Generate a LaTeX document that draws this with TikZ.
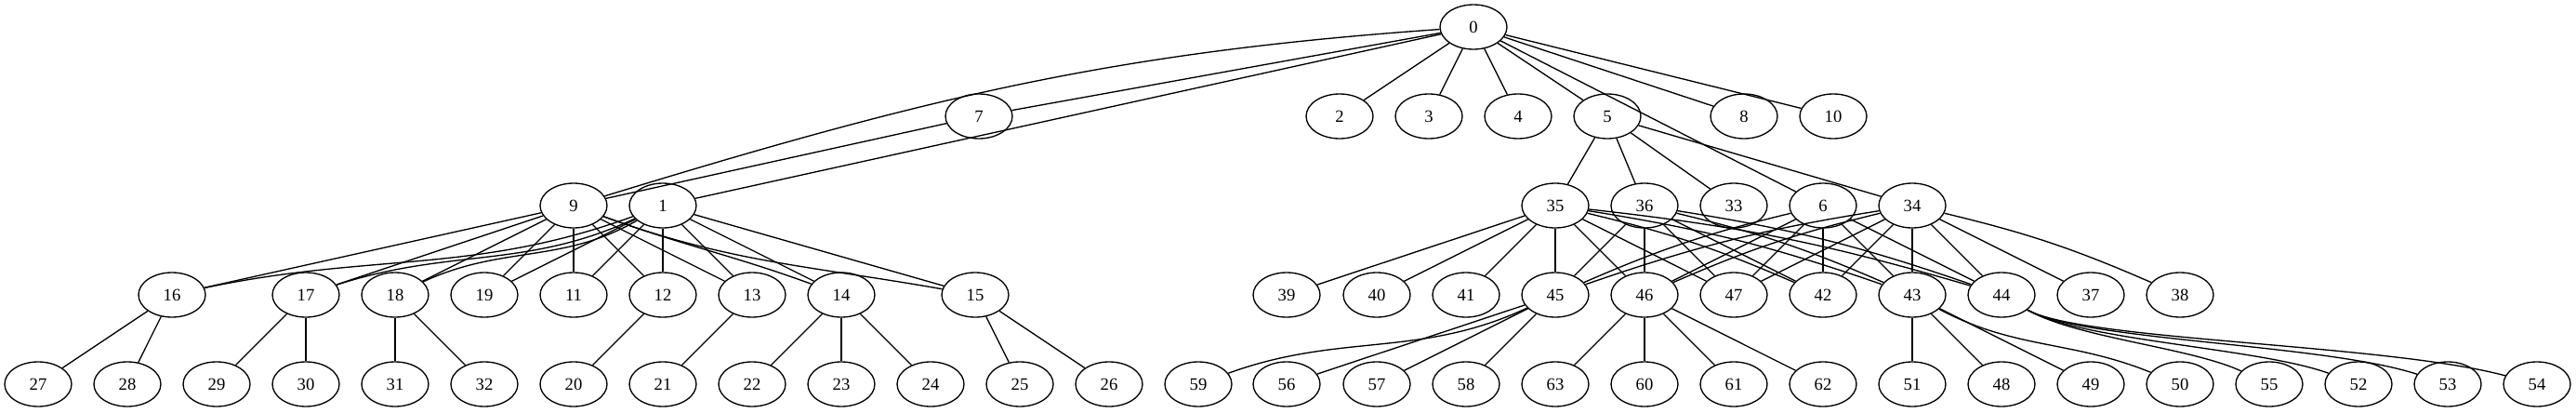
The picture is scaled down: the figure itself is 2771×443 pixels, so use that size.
\documentclass[tikz,border=0pt]{standalone}
\usepackage{fontspec}
\setmainfont{Liberation Serif}
\usepackage{tikz}
\usetikzlibrary{shapes.geometric}

\begin{document}
\begin{tikzpicture}[x=0.75pt,y=0.75pt,line width=1pt,
		base node/.style={ellipse,draw,minimum width=54pt,minimum height=36pt,inner sep=0pt,
			font=\fontsize{14}{16}\selectfont}]
		\useasboundingbox (0,0) rectangle (2771,-443);

		% top
		\node[base node] (n0) at (1585,-29) {0};
		% second row
		\node[base node] (n7) at (1053,-125) {7};
		\node[base node] (n2) at (1441,-125) {2};
		\node[base node] (n3) at (1537,-125) {3};
		\node[base node] (n4) at (1633,-125) {4};
		\node[base node] (n5) at (1729,-125) {5};
		\node[base node] (n8) at (1876,-125) {8};
		\node[base node] (n10) at (1972,-125) {10};
		% third row
		\node[base node] (n9) at (617,-221) {9};
		\node[base node] (n1) at (713,-221) {1};
		\node[base node] (n35) at (1673,-221) {35};
		\node[base node] (n36) at (1769,-221) {36};
		\node[base node] (n33) at (1865,-221) {33};
		\node[base node] (n6) at (1961,-221) {6};
		\node[base node] (n34) at (2057,-221) {34};
		% fourth row
		\node[base node] (n16) at (185,-317) {16};
		\node[base node] (n17) at (329,-317) {17};
		\node[base node] (n18) at (425,-317) {18};
		\node[base node] (n19) at (521,-317) {19};
		\node[base node] (n11) at (617,-317) {11};
		\node[base node] (n12) at (713,-317) {12};
		\node[base node] (n13) at (809,-317) {13};
		\node[base node] (n14) at (905,-317) {14};
		\node[base node] (n15) at (1049,-317) {15};
		\node[base node] (n39) at (1384,-317) {39};
		\node[base node] (n40) at (1481,-317) {40};
		\node[base node] (n41) at (1577,-317) {41};
		\node[base node] (n45) at (1673,-317) {45};
		\node[base node] (n46) at (1769,-317) {46};
		\node[base node] (n47) at (1865,-317) {47};
		\node[base node] (n42) at (1961,-317) {42};
		\node[base node] (n43) at (2057,-317) {43};
		\node[base node] (n44) at (2153,-317) {44};
		\node[base node] (n37) at (2249,-317) {37};
		\node[base node] (n38) at (2345,-317) {38};
		% bottom row
		\node[base node] (n27) at (41,-413) {27};
		\node[base node] (n28) at (137,-413) {28};
		\node[base node] (n29) at (233,-413) {29};
		\node[base node] (n30) at (329,-413) {30};
		\node[base node] (n31) at (425,-413) {31};
		\node[base node] (n32) at (521,-413) {32};
		\node[base node] (n20) at (617,-413) {20};
		\node[base node] (n21) at (713,-413) {21};
		\node[base node] (n22) at (809,-413) {22};
		\node[base node] (n23) at (905,-413) {23};
		\node[base node] (n24) at (1001,-413) {24};
		\node[base node] (n25) at (1097,-413) {25};
		\node[base node] (n26) at (1193,-413) {26};
		\node[base node] (n59) at (1289,-413) {59};
		\node[base node] (n56) at (1384,-413) {56};
		\node[base node] (n57) at (1481,-413) {57};
		\node[base node] (n58) at (1577,-413) {58};
		\node[base node] (n63) at (1673,-413) {63};
		\node[base node] (n60) at (1769,-413) {60};
		\node[base node] (n61) at (1865,-413) {61};
		\node[base node] (n62) at (1961,-413) {62};
		\node[base node] (n51) at (2057,-413) {51};
		\node[base node] (n48) at (2153,-413) {48};
		\node[base node] (n49) at (2249,-413) {49};
		\node[base node] (n50) at (2345,-413) {50};
		\node[base node] (n55) at (2441,-413) {55};
		\node[base node] (n52) at (2537,-413) {52};
		\node[base node] (n53) at (2633,-413) {53};
		\node[base node] (n54) at (2729,-413) {54};

		\path[]
		(n0) edge (n7)
		edge [out=184,in=17] (n9)
		edge (n1)
		edge (n2)
		edge (n3)
		edge (n4)
		edge (n5)
		edge (n6)
		edge (n8)
		edge (n10)
		(n7) edge (n9)
		(n5) edge (n35)
		edge (n36)
		edge (n33)
		edge (n34)
		(n9) edge (n16)
		edge (n17)
		edge (n18)
		edge (n19)
		edge (n11)
		edge (n12)
		edge (n13)
		edge [out=-20,in=160] (n14)
		edge [out=-20,in=170] (n15)
		(n1) edge [out=200,in=12] (n16)
		edge [out=205,in=18] (n17)
		edge [out=210,in=25] (n18)
		edge (n19)
		edge (n11)
		edge (n12)
		edge (n13)
		edge (n14)
		edge (n15)
		(n16) edge (n27)
		edge (n28)
		(n17) edge (n29)
		edge (n30)
		(n18) edge (n31)
		edge (n32)
		(n12) edge (n20)
		(n13) edge (n21)
		(n14) edge (n22)
		edge (n23)
		edge (n24)
		(n15) edge (n25)
		edge (n26)
		(n35) edge (n39)
		edge (n40)
		edge (n41)
		edge (n45)
		edge (n46)
		edge (n47)
		edge [bend left=5] (n42)
		edge [bend left=5] (n43)
		edge [bend left=5] (n44)
		(n36) edge (n45)
		edge (n46)
		edge (n47)
		edge (n42)
		edge [bend left=5] (n43)
		edge [bend left=5] (n44)
		(n6) edge [bend right=5] (n45)
		edge (n46)
		edge (n47)
		edge (n42)
		edge (n43)
		edge (n44)
		(n34) edge [bend right=5] (n45)
		edge [bend right=5] (n46)
		edge (n47)
		edge (n42)
		edge (n43)
		edge (n44)
		edge (n37)
		edge [bend left=5] (n38)
		(n45) edge [out=205,in=20] (n59)
		edge (n56)
		edge (n57)
		edge (n58)
		(n46) edge (n63)
		edge (n60)
		edge (n61)
		edge (n62)
		(n43) edge (n51)
		edge (n48)
		edge (n49)
		edge [out=-28,in=158] (n50)
		(n44) edge [out=-30,in=155,out distance=45pt,in distance=45pt] (n55)
		edge [out=-30,in=160,out distance=50pt,in distance=60pt] (n52)
		edge [out=-30,in=162,out distance=50pt,in distance=80pt] (n53)
		edge [out=-30,in=165,out distance=50pt,in distance=100pt] (n54);
		\end{tikzpicture}
\end{document}
